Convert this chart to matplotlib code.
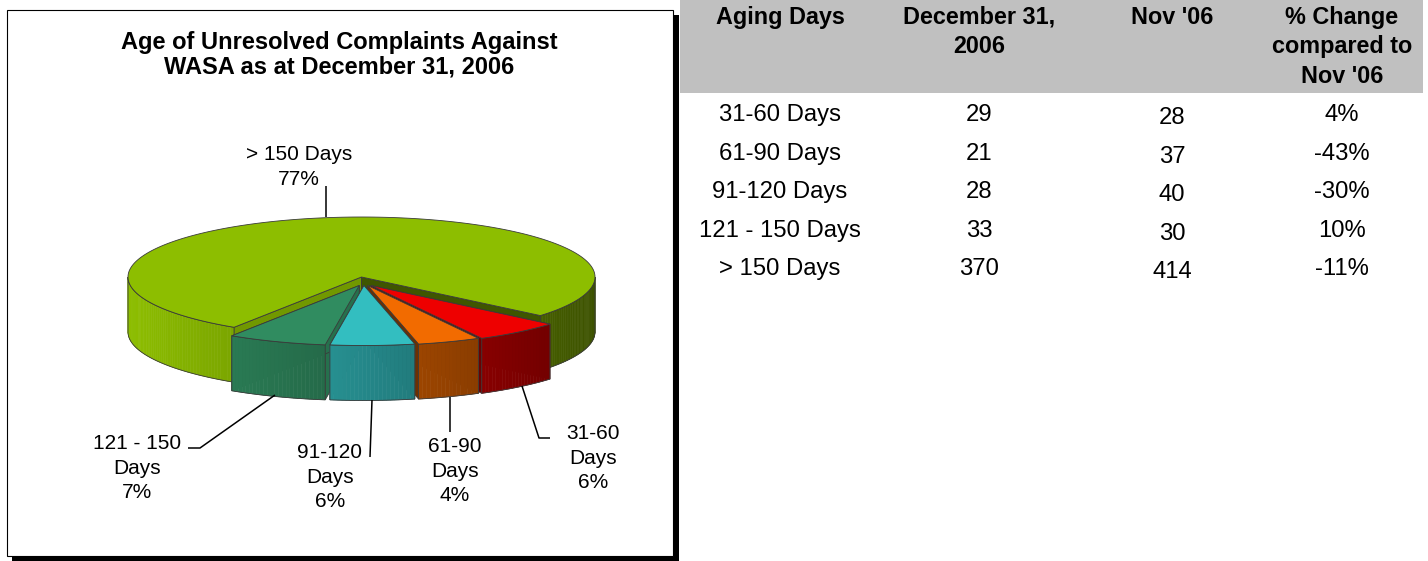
import numpy as np
import matplotlib
matplotlib.use("Agg")
import matplotlib.pyplot as plt
from matplotlib.patches import Polygon, Rectangle
from matplotlib.colors import to_rgb

plt.rcParams['font.family'] = ['Liberation Sans', 'DejaVu Sans']

# ---- data ----
categories = ['31-60 Days', '61-90 Days', '91-120 Days', '121 - 150 Days', '> 150 Days']
pie_names = ['31-60\nDays', '61-90\nDays', '91-120\nDays', '121 - 150\nDays', '> 150 Days']
dec_2006 = [29, 21, 28, 33, 370]
nov_2006 = [28, 37, 40, 30, 414]
table_header = ['Aging Days', 'December 31,\n2006', "Nov '06", "% Change\ncompared to\nNov '06"]
title = 'Age of Unresolved Complaints Against\nWASA as at December 31, 2006'

# ---- style ----
slice_colors = ['#ee0000', '#f26b00', '#33bec0', '#308c60', '#8dbe00']
exploded = [True, True, True, True, False]
edge = '#3a3a3a'

W, H = 1428, 561
fig = plt.figure(figsize=(W / 100, H / 100), dpi=100)
ax = fig.add_axes([0, 0, 1, 1])
ax.set_xlim(0, W)
ax.set_ylim(H, 0)
ax.axis('off')

# chart frame with shadow
ax.add_patch(Rectangle((12, 15), 667, 546, fc='black', ec='none'))
ax.add_patch(Rectangle((7, 10), 666, 546, fc='white', ec='black', lw=0.8))

# title
for j, line in enumerate(title.split('\n')):
    ax.text(339, 42 + 25 * j, line, ha='center', va='center',
            fontsize=17, fontweight='bold')

# ---- 3D pie ----
cx, cy, rx, ry, h = 361.5, 277, 233.5, 60, 55
total = float(sum(dec_2006))
spans = [360 * v / total for v in dec_2006]
start = -40.0


def arc(t_from, t_to, dx=0.0, dy=0.0):
    n = max(int(abs(t_to - t_from)) + 2, 3)
    t = np.radians(np.linspace(t_from, t_to, n))
    return cx + dx + rx * np.cos(t), cy + dy - ry * np.sin(t)


def shade(c, f):
    return tuple(np.clip(np.array(to_rgb(c)) * f, 0, 1))


def light(x):
    return float(np.clip(1.0 - 0.57 * (x - 128) / 467.0, 0.4, 1.0))


def front_ranges(t2, t1):
    out = []
    for k in range(-2, 2):
        lo, hi = max(t2, -180 + 360 * k), min(t1, 360 * k)
        if hi > lo:
            out.append((lo, hi))
    return out


def draw_slice(t1, t2, color, dx, dy):
    # radial cut faces
    for t in (t1, t2):
        rxp, ryp = arc(t, t, dx, dy)
        f = 0.8 if np.cos(np.radians(t)) < 0 else 0.45
        ax.add_patch(Polygon([(cx + dx, cy + dy), (rxp[0], ryp[0]),
                              (rxp[0], ryp[0] + h), (cx + dx, cy + dy + h)],
                             closed=True, fc=shade(color, f), ec=edge, lw=0.6))
    # outer wall, shaded left to right
    for lo, hi in front_ranges(t2, t1):
        xs, ys = arc(hi, lo, dx, dy)
        for k in range(len(xs) - 1):
            c = shade(color, light((xs[k] + xs[k + 1]) / 2))
            ax.add_patch(Polygon([(xs[k], ys[k]), (xs[k + 1], ys[k + 1]),
                                  (xs[k + 1], ys[k + 1] + h), (xs[k], ys[k] + h)],
                                 closed=True, fc=c, ec=c, lw=0.4))
        outline = list(zip(xs, ys)) + list(zip(xs[::-1], ys[::-1] + h))
        ax.add_patch(Polygon(outline, closed=True, fill=False, ec=edge, lw=0.6))
    # top face
    xs, ys = arc(t1, t2, dx, dy)
    ax.add_patch(Polygon([(cx + dx, cy + dy)] + list(zip(xs, ys)), closed=True,
                         fc=color, ec=edge, lw=0.6))


bounds = []
t = start
for s in spans:
    bounds.append((t, t - s))
    t -= s

order = sorted(range(len(spans)),
               key=lambda i: (exploded[i], -abs((bounds[i][0] + bounds[i][1]) / 2 + 90)))
for i in order:
    t1, t2 = bounds[i]
    mid = np.radians((t1 + t2) / 2)
    dx, dy = (2 + 12 * np.cos(mid), 8.5) if exploded[i] else (0, 0)
    draw_slice(t1, t2, slice_colors[i], dx, dy)

# labels and leader lines
label_xy = [(593, 458), (455, 471), (330, 477), (137, 468), (299, 167)]
leaders = [[(522, 386), (539, 438), (550, 438)],
           [(450, 397), (450, 432)],
           [(372, 400), (370, 457)],
           [(275, 395), (200, 448), (188, 448)],
           [(326, 186), (326, 217)]]
step = 24.5
for i, name in enumerate(pie_names):
    pct = '%d%%' % round(100 * dec_2006[i] / total)
    lines = name.split('\n') + [pct]
    x0, yc = label_xy[i]
    y0 = yc - step * (len(lines) - 1) / 2
    for j, line in enumerate(lines):
        ax.text(x0, y0 + step * j, line, ha='center', va='center', fontsize=15)
    px, py = zip(*leaders[i])
    ax.plot(px, py, color='black', lw=1.1, solid_capstyle='butt')

# ---- table ----
ax.add_patch(Rectangle((680, 0), 743, 93, fc='#c0c0c0', ec='none'))
col_x = [780, 979, 1172, 1342]
for c, head in enumerate(table_header):
    for j, line in enumerate(head.split('\n')):
        ax.text(col_x[c], 17 + 29.5 * j, line, ha='center', va='center',
                fontsize=16.8, fontweight='bold')

for r, cat in enumerate(categories):
    y = 115 + 38.5 * r
    change = (dec_2006[r] - nov_2006[r]) / nov_2006[r] * 100
    cells = [cat, str(dec_2006[r]), str(nov_2006[r]), '%d%%' % round(change)]
    for c, val in enumerate(cells):
        ax.text(col_x[c], y + (3 if c == 2 else 0), val, ha='center', va='center',
                fontsize=17.2)

fig.savefig('out.png', dpi=100)
